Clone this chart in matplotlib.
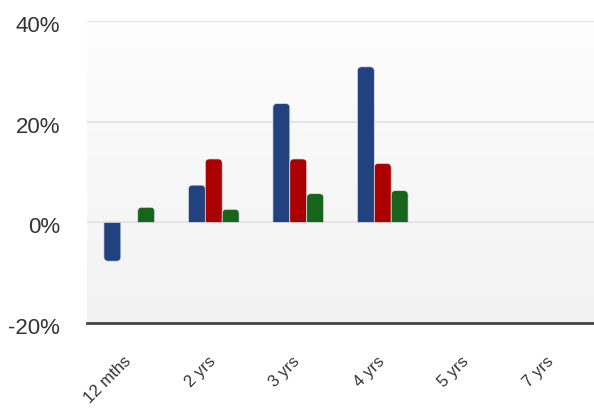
import numpy as np
import matplotlib
matplotlib.use("Agg")
import matplotlib.pyplot as plt
from matplotlib.path import Path
from matplotlib.patches import PathPatch
from matplotlib.transforms import ScaledTranslation

plt.rcParams["font.family"] = ["Liberation Sans", "DejaVu Sans"]

categories = ["12 mths", "2 yrs", "3 yrs", "4 yrs", "5 yrs", "7 yrs"]
series_blue = [-7.7, 7.4, 23.6, 30.9, None, None]
series_red = [None, 12.6, 12.6, 11.7, None, None]
series_green = [3.0, 2.6, 5.7, 6.3, None, None]
colors = ["#22417f", "#ab0000", "#17641c"]
y_ticks = [-20, 0, 20, 40]


def rounded_bar(x0, w, h, rx, ry):
    # round only the end away from zero
    s = 1 if h >= 0 else -1
    ry = min(ry, abs(h)) * s
    x1 = x0 + w
    verts = [(x0, 0), (x0, h - ry), (x0, h), (x0 + rx, h),
             (x1 - rx, h), (x1, h), (x1, h - ry), (x1, 0), (x0, 0)]
    codes = [Path.MOVETO, Path.LINETO, Path.CURVE3, Path.CURVE3,
             Path.LINETO, Path.CURVE3, Path.CURVE3, Path.LINETO, Path.CLOSEPOLY]
    return Path(verts, codes)


fig = plt.figure(figsize=(5.94, 4.09), dpi=100)
ax = fig.add_axes([0.1465, 0.21, 0.8535, 0.7387])
ax.set_xlim(-0.5, len(categories) - 0.5)
ax.set_ylim(-20, 40)

# background gradient
grad = np.linspace(0, 1, 256).reshape(-1, 1)
ax.imshow(grad, extent=[-0.5, len(categories) - 0.5, -20, 40], aspect="auto",
          cmap=matplotlib.colors.LinearSegmentedColormap.from_list("bg", ["#f2f2f2", "#fdfdfd"]),
          origin="lower", zorder=0)

for t in y_ticks[1:]:
    ax.axhline(t, color="#e5e5e5", lw=1.5, zorder=1)

bw = 0.2
rx = 0.05
ry = 0.8
for i, vals in enumerate([series_blue, series_red, series_green]):
    for j, v in enumerate(vals):
        if v is None:
            continue
        x0 = j + (i - 1) * bw - bw / 2
        p = rounded_bar(x0, bw, v, rx, ry)
        ax.add_patch(PathPatch(p, facecolor=colors[i], edgecolor="#dfe3ea",
                               lw=0.5, zorder=3))

for side in ["top", "right", "left"]:
    ax.spines[side].set_visible(False)
ax.spines["bottom"].set_color("#444444")
ax.spines["bottom"].set_linewidth(2)
ax.spines["bottom"].set_zorder(5)

ax.set_yticks(y_ticks)
ax.set_yticklabels([f"{t}%" for t in y_ticks])
ax.tick_params(axis="y", length=0, pad=19.5, labelsize=16, labelcolor="#333333")
ax.set_xticks(range(len(categories)))
ax.set_xticklabels(categories, rotation=45, ha="right", rotation_mode="anchor")
ax.tick_params(axis="x", length=0, pad=22, labelsize=12, labelcolor="#333333")

for lbl in ax.get_yticklabels():
    lbl.set_transform(lbl.get_transform() + ScaledTranslation(0, -3 / 100, fig.dpi_scale_trans))
for lbl in ax.get_xticklabels():
    lbl.set_transform(lbl.get_transform() + ScaledTranslation(-6 / 100, 0, fig.dpi_scale_trans))

fig.savefig("out.png", dpi=100)
